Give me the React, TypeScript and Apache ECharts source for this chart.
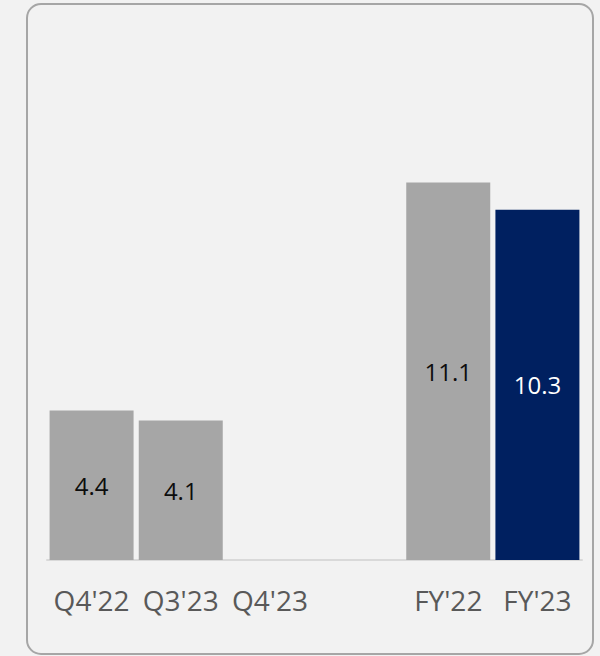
import React, { useEffect, useRef } from "react";
import * as echarts from "echarts";

const categories = ["Q4'22", "Q3'23", "Q4'23", "", "FY'22", "FY'23"];
const values: (number | null)[] = [4.4, 4.1, null, null, 11.1, 10.3];
const highlighted = [false, false, false, false, false, true];

const GRAY = "#a6a6a6";
const NAVY = "#002060";
const FONT = "'Open Sans', 'Noto Sans', sans-serif";

export default function App() {
  const ref = useRef<HTMLDivElement>(null);
  useEffect(() => {
    if (!ref.current) return;
    const chart = echarts.init(ref.current, undefined, { renderer: "svg" });
    const data = values.map((v, i) => ({
      value: v,
      itemStyle: { color: highlighted[i] ? NAVY : GRAY },
      label: { color: highlighted[i] ? "#ffffff" : "#0d0d0d" },
    }));
    chart.setOption({
      animation: false,
      backgroundColor: "#f2f2f2",
      textStyle: { fontFamily: FONT },
      grid: { left: 47, right: 18, top: 50, bottom: 96, containLabel: false },
      xAxis: {
        type: "category",
        data: categories,
        axisLine: { show: true, lineStyle: { color: "#d9d9d9", width: 2 } },
        axisTick: { show: false },
        axisLabel: {
          interval: 0,
          color: "#595959",
          fontSize: 28,
          fontFamily: FONT,
          margin: 26,
        },
      },
      yAxis: {
        type: "value",
        min: 0,
        max: 15,
        show: false,
        splitLine: { show: false },
      },
      graphic: [
        {
          type: "rect",
          shape: { x: 27, y: 4, width: 566, height: 650, r: 14 },
          style: { fill: "none", stroke: "#a6a6a6", lineWidth: 2 },
          silent: true,
        },
      ],
      series: [
        {
          type: "bar",
          data,
          barWidth: 84,
          label: {
            show: true,
            position: "inside",
            fontSize: 24,
            fontFamily: FONT,
            formatter: (p: any) => (p.value == null ? "" : Number(p.value).toFixed(1)),
          },
        },
      ],
    });
    return () => chart.dispose();
  }, []);
  return (
    <div
      ref={ref}
      style={{ position: "fixed", left: 0, top: 0, width: 600, height: 656, background: "#f2f2f2" }}
    />
  );
}
